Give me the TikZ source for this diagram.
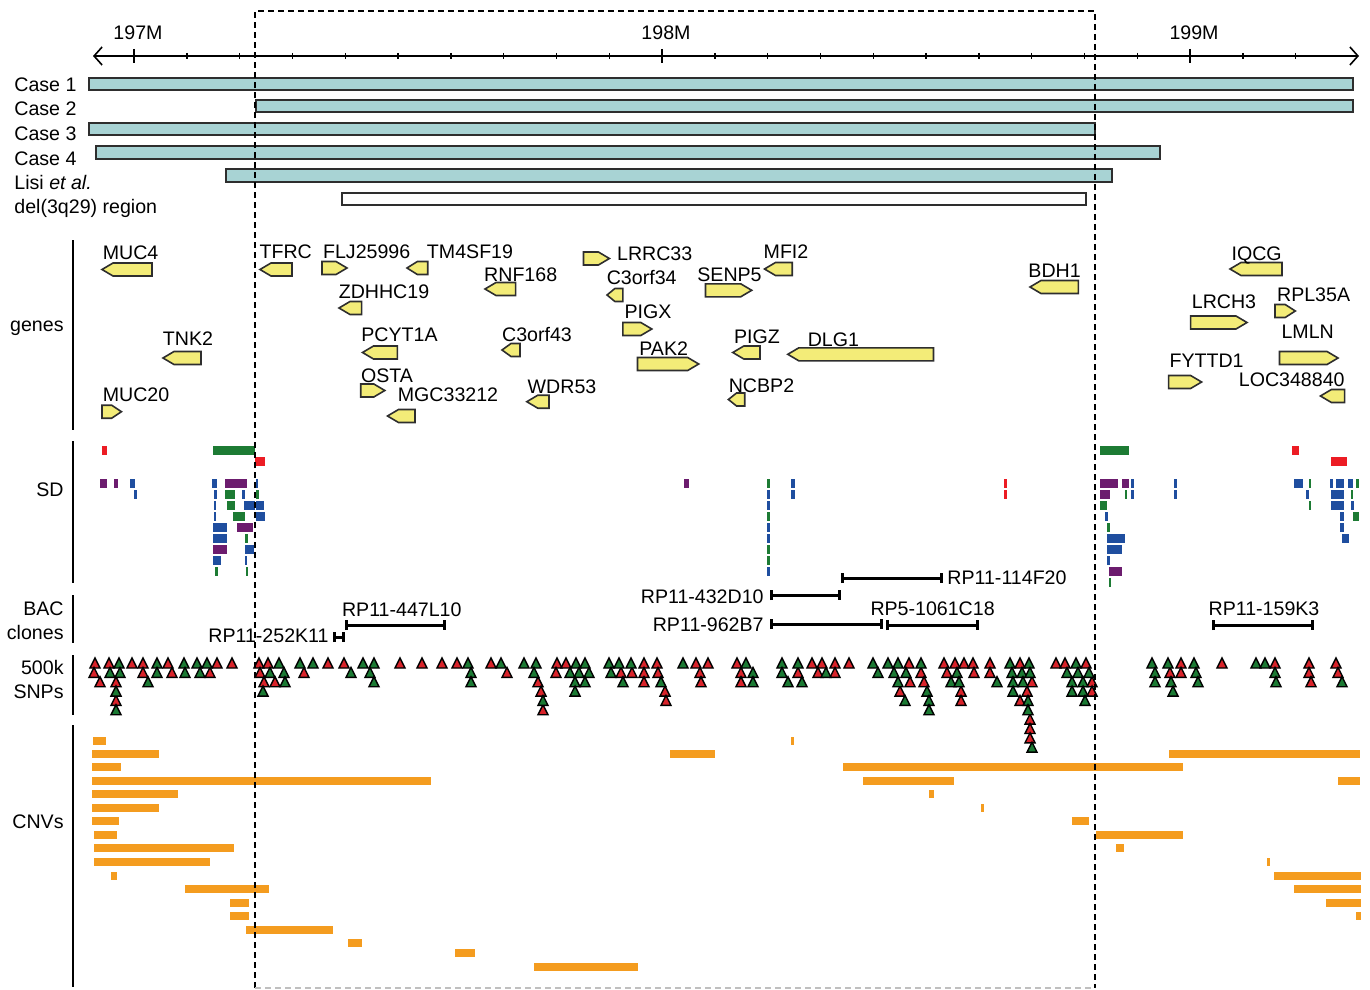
\documentclass[tikz,border=0pt]{standalone}
\usepackage{fontspec}
\setmainfont{Liberation Sans}
\usetikzlibrary{arrows.meta}

\definecolor{caseteal}{HTML}{A8D3D4}
\definecolor{geneyellow}{HTML}{F3EC78}
\definecolor{cnvorange}{HTML}{F49C1F}
\definecolor{sdred}{HTML}{EC1C24}
\definecolor{sdgreen}{HTML}{1D7B34}
\definecolor{sdpurple}{HTML}{6C1C6E}
\definecolor{sdblue}{HTML}{1F4E9F}
\definecolor{snpred}{HTML}{D9232A}
\definecolor{snpgreen}{HTML}{1B7A33}
\definecolor{edgegray}{HTML}{2E2E2E}

\tikzset{
  lbl/.style={font=\fontsize{9.8}{11}\selectfont, inner sep=0pt, text height=7pt, text depth=0pt},
  casebar/.style={draw=edgegray, line width=1pt, fill=caseteal},
  genebox/.style={draw=edgegray, line width=0.8pt, fill=geneyellow, line join=miter},
  snp/.style={draw=black, line width=0.7pt, fill=#1},
  clone/.style={line width=1.5pt, {Bar[width=5pt]}-{Bar[width=5pt]}},
  trackline/.style={line width=0.8pt},
  region/.style={dash pattern=on 3pt off 2pt, line width=0.75pt}
}

\begin{document}
\begin{tikzpicture}[x=0.5pt,y=-0.5pt]
\useasboundingbox (0,0) rectangle (1370,990);

% Axis
\draw[line width=0.8pt, {Straight Barb[length=4pt,width=9pt]}-{Straight Barb[length=4pt,width=9pt]}] (93,56) -- (1359,56);
\foreach \k in {0,...,22}{
    \pgfmathsetmacro\tx{134+52.8*\k}
    \draw[line width=0.7pt] (\tx,53) -- (\tx,59);
}
\foreach \tx/\txt in {134/197M, 662/198M, 1190/199M}{
    \draw[line width=0.8pt] (\tx,49) -- (\tx,63);
    \node[lbl] (m\txt) at (\tx+4,33) {\txt};
}

% Cases
\foreach \xa/\xb/\ya/\ly/\txt [count=\i] in {89/1353/78/85/Case 1, 256/1353/100/109/Case 2,
    89/1095/123/133.5/Case 3, 96/1160/146/158/Case 4}{
    \filldraw[casebar] (\xa,\ya) rectangle (\xb,\ya+12.5);
    \node[lbl, anchor=west] (case\i) at (14,\ly) {\txt};
}
\filldraw[casebar] (226,169) rectangle (1112,181.5);
\node[lbl, anchor=west] (lisi) at (14,182) {Lisi \textit{et al.}};
\filldraw[casebar, fill=white] (341.5,192.5) rectangle (1086,205);
\node[lbl, anchor=west] (del3q29) at (14,206) {del(3q29) region};

% Track labels
\draw[trackline] (73,240) -- (73,430);
\node[lbl, anchor=east] (genes) at (64,324) {genes};
\draw[trackline] (73,441) -- (73,583);
\node[lbl, anchor=east] (sd) at (64,489) {SD};
\draw[trackline] (73,595) -- (73,643);
\node[lbl, anchor=east] (bac) at (64,608) {BAC};
\node[lbl, anchor=east] (clones) at (64,632) {clones};
\draw[trackline] (73,655) -- (73,715);
\node[lbl, anchor=east] (snp500k) at (64,667) {500k};
\node[lbl, anchor=east] (snps) at (64,691) {SNPs};
\draw[trackline] (73,725) -- (73,987);
\node[lbl, anchor=east] (cnvs) at (64,821) {CNVs};

% Genes (tail x / tip x / y / label x / label y / name)
\foreach \xa/\xb/\y/\lx/\ly/\g in {
    152/102/269.5/130.6/252/MUC4, 201/163/358/188/338/TNK2, 102/121.4/411.7/136/394/MUC20,
    292/260/269.5/285.7/251.7/TFRC, 322/347/268/366.7/251.7/FLJ25996, 427.7/407/268/470/251.7/TM4SF19,
    515.6/485/289/520.7/274/RNF168, 583.5/609.4/258.5/654.7/253/LRRC33, 622.8/607/295/641.7/277/C3orf34,
    361.6/339/308/384/291.7/ZDHHC19, 622.8/651.8/329/648/311/PIGX, 397.3/362.5/352.5/399.5/334/PCYT1A,
    520/502/350/537/334/C3orf43, 637.5/698.7/364/663.7/348/PAK2, 360.7/384.8/390.5/387/375/OSTA,
    415/387.5/416/448/394.5/MGC33212, 549/526.8/401.7/562/386.7/WDR53, 792.2/764.5/269/786/251.7/MFI2,
    705.5/751.7/290.3/729.5/274/SENP5, 760/732.8/352.5/757/336/PIGZ, 933.5/787.8/354.3/833.4/339/DLG1,
    744.7/728.4/399.5/761.5/385/NCBP2, 1078.3/1030/287/1054.6/270.7/BDH1, 1282/1230/269/1256.6/253.3/IQCG,
    1190.6/1247/322.5/1224/301.7/LRCH3, 1275/1295.3/311/1313.6/294/RPL35A, 1279.5/1338/358/1307.7/331.7/LMLN,
    1168.6/1201.6/382/1206.6/360/FYTTD1, 1344.6/1320.4/396/1291.7/379/LOC348840}{
    \pgfmathsetmacro\tp{\xb-sign(\xb-\xa)*min(11,abs(\xb-\xa)/2)}
    \filldraw[genebox] (\xa,\y-6.5) -- (\tp,\y-6.5) -- (\xb,\y) -- (\tp,\y+6.5) -- (\xa,\y+6.5) -- cycle;
    \node[lbl] (\g) at (\lx,\ly) {\g};
}

% SD (x1 / x2 / row)
\foreach \xa/\xb/\r in {102/107/-3, 255/265/-2, 1003.5/1007/0, 1003.5/1007/1, 1292/1299/-3, 1331/1346.5/-2}{
    \fill[sdred] (\xa,{479+11*(\r)}) rectangle (\xb,{488+11*(\r)});
}
\foreach \xa/\xb/\r in {213/255/-3, 225/235/1, 227/235/2, 233/245/3, 245/248/5, 215/218/8, 246/248/8,
    256/259/1, 1100/1129/-3, 1125/1127/1, 1100/1107/2, 1107/1110/4, 1109/1111/9, 1309/1311/0,
    1309/1311/2, 1356/1359/0, 1351/1353/1, 1352.5/1358.5/3, 767.3/769.7/0, 767.3/769.7/3,
    767.3/769.7/6, 767.3/769.7/7}{
    \fill[sdgreen] (\xa,{479+11*(\r)}) rectangle (\xb,{488+11*(\r)});
}
\foreach \xa/\xb/\r in {100/107/0, 114/118/0, 225/247/0, 237/253/4, 213/227/6, 683.5/689/0,
    1100/1118/0, 1122/1129/0, 1100/1110/1, 1109/1121.5/8}{
    \fill[sdpurple] (\xa,{479+11*(\r)}) rectangle (\xb,{488+11*(\r)});
}
\foreach \xa/\xb/\r in {130/135/0, 134/137/1, 212/217/0, 256/258/0, 214/217/1, 242/245/1, 214/216/2,
    244/255/2, 256/264/2, 214/216/3, 256/265/3, 213/227/4, 213/227/5, 245/254/6, 213/221/7, 245/247/7,
    791/795/0, 791/795/1, 1131/1134/0, 1131/1134/1, 1174/1177/0, 1174/1177/1, 1104.5/1108/3,
    1107/1125/5, 1107/1121.5/6, 1107/1110/7, 1294/1303/0, 1305.6/1309/1, 1329.5/1333/0,
    1335.5/1344/0, 1348/1352.5/0, 1331/1344/1, 1331/1344/2, 1351/1354/2, 1340/1344/3, 1340/1344/4,
    1342/1349/5, 767.3/769.7/1, 767.3/769.7/2, 767.3/769.7/4, 767.3/769.7/5, 767.3/769.7/8}{
    \fill[sdblue] (\xa,{479+11*(\r)}) rectangle (\xb,{488+11*(\r)});
}

% BAC clones
\foreach \xa/\xb/\y in {332.6/345/637, 345/446.4/625, 840.6/942.8/578, 770.2/840.6/595,
    770.2/882.5/624, 886/979.3/625, 1211.7/1313.8/625}{
    \draw[clone] (\xa,\y) -- (\xb,\y);
}
\node[lbl, anchor=east] (rp252k11) at (329,635) {RP11-252K11};
\node[lbl] (rp447l10) at (401.8,609) {RP11-447L10};
\node[lbl, anchor=west] (rp114f20) at (947,577.5) {RP11-114F20};
\node[lbl, anchor=east] (rp432d10) at (764,596.5) {RP11-432D10};
\node[lbl, anchor=east] (rp962b7) at (764,624) {RP11-962B7};
\node[lbl] (rp1061c18) at (932.6,608.5) {RP5-1061C18};
\node[lbl] (rp159k3) at (1264,608.5) {RP11-159K3};

% 500k SNPs (row / x list)
\foreach \r/\xs in {
    0/{95,109,132,143,168,217,232,259,268,328,344,400,422,442,457,491,557,566,644,657,696,708,737,812,
       822,835,849,909,944,955,964,973,990,1020,1056,1065,1086,1181,1222,1275,1309,1336},
    1/{94,143,172,210,260,304,507,556,621,632,644,658,700,741,798,818,835,921,947,974,990,1170,1181,
       1309,1338},
    2/{100,116,264,275,538,644,701,741,910,924,1032,1092,1311},
    3/{541,665,900,961,1027,1092}, 4/{116,666,961,1020}, 5/{543}, 6/{1030}, 7/{1030}, 8/{1030}}{
    \foreach \x in \xs{
        \pgfmathsetmacro\ty{663+9.35*\r}
        \filldraw[snp=snpred] (\x-5,\ty+5) -- (\x+5,\ty+5) -- (\x,\ty-5) -- cycle;
    }
}
\foreach \r/\xs in {
    0/{119,157,184,197,207,279,300,313,363,374,468,501,524,536,576,585,609,619,631,683,746,782,798,
       873,888,898,921,1010,1029,1076,1152,1168,1194,1256,1265},
    1/{110,120,157,185,200,270,284,351,370,471,534,570,579,589,611,753,782,826,878,894,906,957,1012,
       1022,1030,1067,1078,1089,1155,1196,1275},
    2/{148,285,374,471,575,585,623,661,753,788,802,898,951,959,997,1013,1023,1072,1083,1155,1171,
       1198,1276,1342},
    3/{116,263,575,927,1013,1072,1083,1173}, 4/{543,905,929,1028,1085}, 5/{116,929,1028}, 9/{1032}}{
    \foreach \x in \xs{
        \pgfmathsetmacro\ty{663+9.35*\r}
        \filldraw[snp=snpgreen] (\x-5,\ty+5) -- (\x+5,\ty+5) -- (\x,\ty-5) -- cycle;
    }
}

% CNVs (x1 / x2 / y)
\foreach \xa/\xb/\y in {93/106/741, 791.4/794.4/741, 91.5/159.4/753.5, 669.6/715.2/753.5,
    1169.4/1360/753.5, 91.5/120.5/767, 842.9/1182.6/767, 91.5/430.8/780.5, 862.7/953.8/780.5,
    1338/1360/780.5, 91.5/178/794, 928.7/934.4/794, 91.5/159.4/807.5, 980.6/983.7/807.5,
    91.5/119/821, 1071.7/1088.5/821, 93.8/117/834.5, 1096/1182.6/834.5, 93.8/233.5/848,
    1115.7/1123.7/848, 93.8/209.8/862, 1267/1270/862, 110.7/117/875.5, 1274/1361/875.5,
    184.8/269.2/889, 1294/1361/889, 230/248.7/903, 1326/1361/903, 230/248.7/916, 1355.6/1361/916,
    245.5/333/930, 348/361.6/943, 454.5/474.6/953, 533.5/637.5/967}{
    \fill[cnvorange] (\xa,\y-4) rectangle (\xb,\y+4);
}

% Deleted region
\draw[region] (255,988) -- (255,11) -- (1095,11) -- (1095,988);
\draw[region, gray!50] (255,988) -- (1095,988);

\end{tikzpicture}
\end{document}
